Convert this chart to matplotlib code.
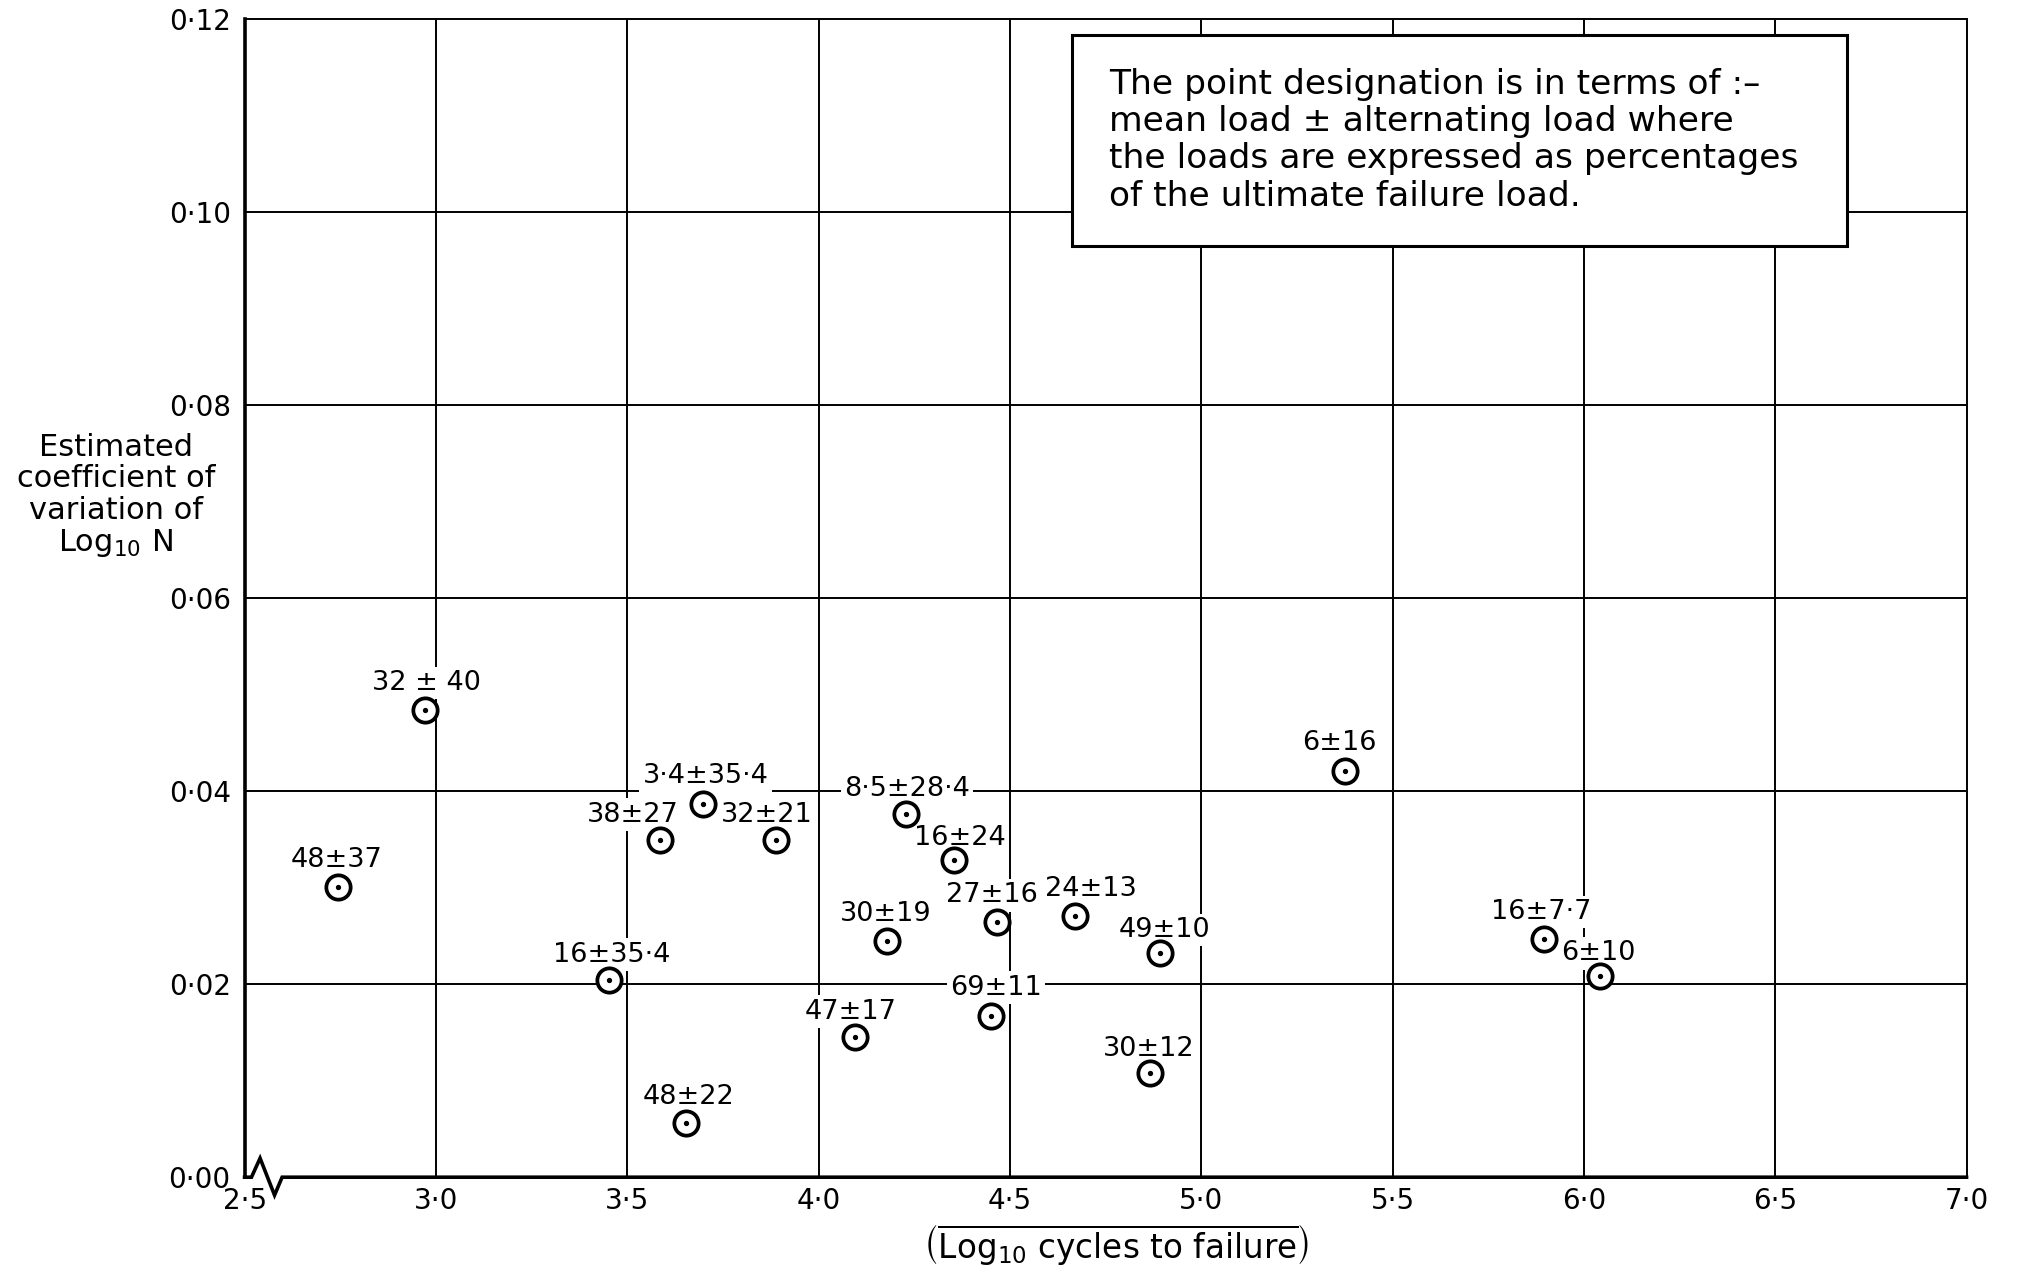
import numpy as np
import matplotlib
matplotlib.use("Agg")
import matplotlib.pyplot as plt

plt.rcParams['font.family'] = ['DejaVu Sans']
plt.rcParams['mathtext.fontset'] = 'dejavusans'

# Pontos: log10 N, coeficiente de variação, designação (média ± alternada)
log_cycles = [2.745, 2.971, 3.452, 3.586, 3.697, 3.653, 3.889, 4.094, 4.178, 4.228,
              4.353, 4.467, 4.450, 4.669, 4.891, 4.867, 5.375, 5.896, 6.041]
coef_var = [0.0301, 0.0484, 0.0204, 0.0349, 0.0387, 0.0056, 0.0349, 0.0145, 0.0245, 0.0376,
            0.0329, 0.0264, 0.0167, 0.0271, 0.0232, 0.0108, 0.0421, 0.0247, 0.0208]
designations = ["48±37", "32 ± 40", "16±35·4", "38±27", "3·4±35·4", "48±22", "32±21",
                "47±17", "30±19", "8·5±28·4", "16±24", "27±16", "69±11", "24±13",
                "49±10", "30±12", "6±16", "16±7·7", "6±10"]

x_ticks = [2.5, 3.0, 3.5, 4.0, 4.5, 5.0, 5.5, 6.0, 6.5, 7.0]
y_ticks = [0.00, 0.02, 0.04, 0.06, 0.08, 0.10, 0.12]

# deslocamento dos rótulos (pontos)
offsets = [(-1, 19.5), (1, 19.5), (2, 18.5), (-20, 18.5), (2, 20), (2, 18.5), (-6.5, 18.5),
           (-3, 18.5), (-1, 19.5), (1, 18.5), (4.6, 15.8), (-3.7, 19.5), (3.7, 20.4),
           (12, 19.5), (3.7, 16.7), (-1, 17.6), (-3.7, 20.4), (-2, 19.5), (-1, 16.7)]

fig = plt.figure(figsize=(20.18, 12.75), dpi=100)
ax = fig.add_axes([0.1212, 0.0767, 0.8533, 0.9082])
ax.set_xlim(2.5, 7.0)
ax.set_ylim(0.0, 0.12)

# grade
for xv in x_ticks[1:-1]:
    ax.axvline(xv, color='black', lw=1.4, zorder=1)
for yv in y_ticks[1:-1]:
    ax.axhline(yv, color='black', lw=1.4, zorder=1)

ax.set_xticks(x_ticks)
ax.set_xticklabels([f"{v:.1f}".replace('.', '·') for v in x_ticks])
ax.set_yticks(y_ticks)
ax.set_yticklabels([f"{v:.2f}".replace('.', '·') for v in y_ticks])
ax.tick_params(length=0, labelsize=20)
ax.tick_params(axis='y', pad=10)
ax.tick_params(axis='x', pad=7)

for s in ['top', 'right']:
    ax.spines[s].set_linewidth(1.4)
ax.spines['left'].set_linewidth(2.6)
ax.spines['bottom'].set_visible(False)

# eixo inferior com quebra
ax.plot([0, 0.004, 0.009, 0.0174, 0.0218, 1.0], [0, 0, 0.0164, -0.0155, 0, 0],
        transform=ax.transAxes, color='black', lw=2.6, clip_on=False, zorder=5,
        solid_joinstyle='miter')

# pontos
ax.plot(log_cycles, coef_var, 'o', ms=17.5, mfc='white', mec='black', mew=2.7, zorder=4)
ax.plot(log_cycles, coef_var, 'o', ms=2.8, color='black', zorder=5)

for x, y, lab, off in zip(log_cycles, coef_var, designations, offsets):
    ax.annotate(lab, (x, y), xytext=off, textcoords='offset points', ha='center',
                va='center', fontsize=19.5, zorder=3,
                bbox=dict(boxstyle='square,pad=0.12', fc='white', ec='none'))

# caixa de texto
box_txt = ("The point designation is in terms of :–\n"
           "mean load ± alternating load where\n"
           "the loads are expressed as percentages\n"
           "of the ultimate failure load.")
ax.add_patch(plt.Rectangle((0.4806, 0.8044), 0.4499, 0.1823, transform=ax.transAxes,
                           fc='white', ec='black', lw=2.2, zorder=6))
ax.text(0.502, 0.8955, box_txt, transform=ax.transAxes, ha='left', va='center',
        fontsize=24.8, linespacing=1.17, zorder=7)

# rótulos dos eixos
fig.text(0.0574, 0.611, "Estimated\ncoefficient of\nvariation of\nLog$_{10}$ N",
         ha='center', va='center', fontsize=22, linespacing=1.1)
fig.text(0.553, 0.023,
         r"$\left(\overline{\mathrm{Log}_{10}\ \mathrm{cycles\ to\ failure}}\right)$",
         ha='center', va='center', fontsize=23.5)

fig.savefig("out.png", dpi=100)
